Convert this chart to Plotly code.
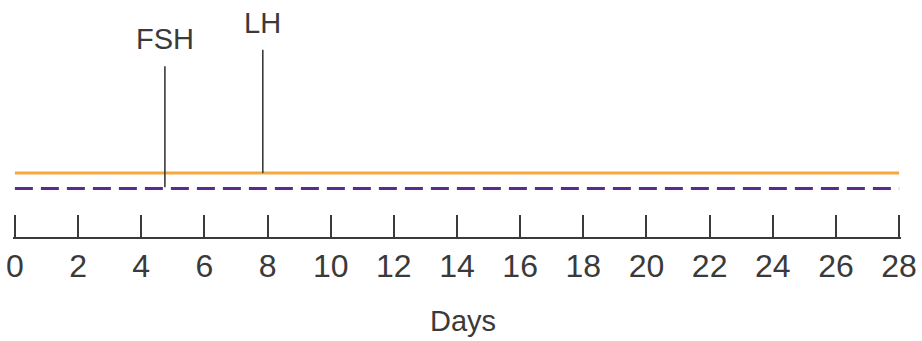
import plotly.graph_objects as go

# ---- data ----
days = [0, 28]
orange_level = [2.7, 2.7]
purple_level = [2.05, 2.05]

pulse_labels = ["FSH", "LH"]
pulse_days = [4.75, 7.85]
pulse_base = [2.1, 2.7]
pulse_peak = [7.2, 7.9]

tick_vals = list(range(0, 29, 2))
tick_text = [str(v) for v in tick_vals]

ORANGE = "#F5A83F"
PURPLE = "#5B2A91"
INK = "#3a3a3a"
FONT = "Liberation Sans"

fig = go.Figure()

fig.add_trace(go.Scatter(x=days, y=orange_level, mode="lines",
                         line=dict(color=ORANGE, width=3), hoverinfo="skip"))
fig.add_trace(go.Scatter(x=days, y=purple_level, mode="lines",
                         line=dict(color=PURPLE, width=3, dash="18px,8px"), hoverinfo="skip"))

for lab, d, b, p in zip(pulse_labels, pulse_days, pulse_base, pulse_peak):
    fig.add_trace(go.Scatter(x=[d, d], y=[b, p], mode="lines",
                             line=dict(color=INK, width=1.6), hoverinfo="skip"))
    fig.add_annotation(x=d, y=p, text=lab, showarrow=False, yanchor="middle",
                       yshift=27, font=dict(family=FONT, size=29, color=INK))

fig.add_annotation(xref="paper", yref="paper", x=0.5, xshift=6, y=-0.354,
                   yanchor="middle", text="Days", showarrow=False,
                   font=dict(family=FONT, size=29, color=INK))

fig.update_layout(
    width=922, height=341,
    margin=dict(l=12.5, r=21, t=0, b=104, autoexpand=False),
    paper_bgcolor="white", plot_bgcolor="white",
    showlegend=False,
)
fig.update_xaxes(range=[-0.06, 28.06], tickvals=tick_vals, ticktext=tick_text,
                 ticks="inside", ticklen=22, tickwidth=1.6, tickcolor=INK,
                 showline=True, linecolor=INK, linewidth=1.6,
                 showgrid=False, zeroline=False, automargin=False,
                 tickfont=dict(family=FONT, size=32, color=INK),
                 ticklabelstandoff=0)
fig.update_yaxes(range=[0, 10], visible=False, showgrid=False, zeroline=False,
                 automargin=False)

fig.write_html("out.html", config={"displayModeBar": False},
               post_script="document.body.style.margin='0';document.body.style.overflow='hidden';")
